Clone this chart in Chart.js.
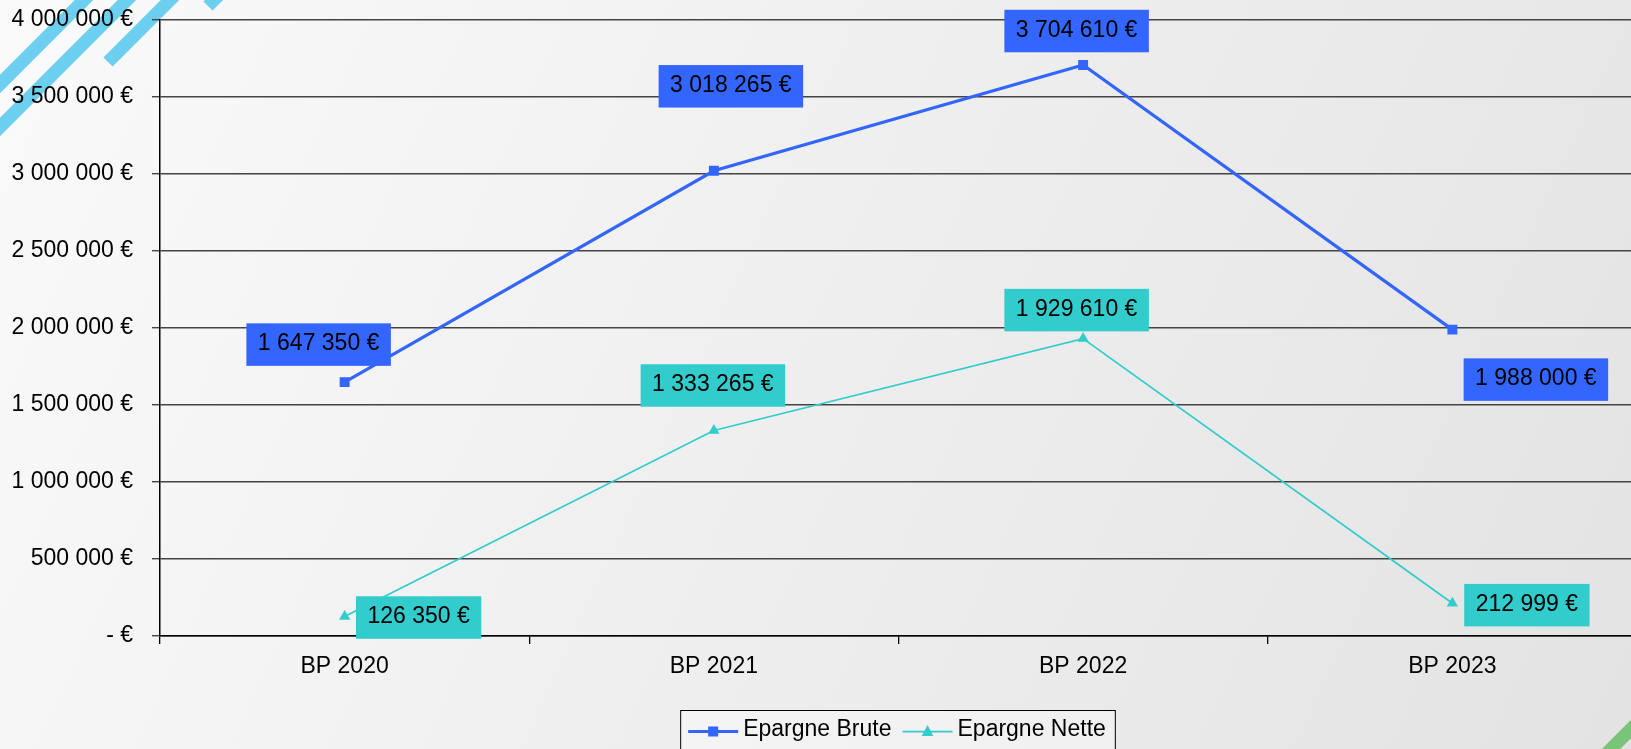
<!DOCTYPE html>
<html>
<head>
<meta charset="utf-8">
<script src="https://cdn.jsdelivr.net/npm/chart.js@4.4.0/dist/chart.umd.min.js"></script>
<style>
  html, body { margin: 0; padding: 0; overflow: hidden; width: 1631px; height: 749px; }
  canvas { display: block; }
</style>
</head>
<body>
<canvas id="graph01" width="1644" height="749"></canvas>
<script>
const categories = ['BP 2020', 'BP 2021', 'BP 2022', 'BP 2023']
const epargneBrute = [1647350, 3018265, 3704610, 1988000]
const epargneNette = [126350, 1333265, 1929610, 212999]
const seriesNames = ['Epargne Brute', 'Epargne Nette']
const yMin = 0
const yMax = 4000000
const yStep = 500000

// where each value box sits, relative to its point
const offsetsBrute = [[-26, -37.5], [17, -84.5], [-6.5, -34], [83.5, 50]]
const offsetsNette = [[74, 1], [-1, -45], [-6.5, -28.5], [74.5, 2]]

const FONT = '"Liberation Sans", Arial, sans-serif'
const FSIZE = 23
const blue = '#3366ff'
const teal = '#33cccc'

const euros = v => {
  if (v === 0) return '- €'
  return String(v).replace(/\B(?=(\d{3})+(?!\d))/g, ' ') + ' €'
}

const background = {
  id: 'background',
  beforeDraw(chart) {
    const c = chart.ctx
    const w = 1631, h = 749
    c.save()
    const g = c.createLinearGradient(0, 0, w, h)
    g.addColorStop(0, '#fafafa')
    g.addColorStop(1, '#e3e3e3')
    c.fillStyle = g
    c.fillRect(0, 0, chart.width, h)
    c.lineCap = 'butt'
    c.lineWidth = 13
    c.strokeStyle = '#6ccff0'
    const stripes = [[-20, 104, 104, -20], [-20, 147, 147, -20], [108, 62, 180, -10], [208, 6, 224, -10]]
    stripes.forEach(s => {
      c.beginPath()
      c.moveTo(s[0], s[1])
      c.lineTo(s[2], s[3])
      c.stroke()
    })
    c.strokeStyle = '#7ac47a'
    c.beginPath()
    c.moveTo(1600, 760)
    c.lineTo(1650, 710)
    c.stroke()
    c.restore()
  }
}

const valueBoxes = {
  id: 'valueBoxes',
  afterDatasetsDraw(chart) {
    const c = chart.ctx
    const offsets = [offsetsBrute, offsetsNette]
    c.save()
    c.font = FSIZE + 'px ' + FONT
    c.textAlign = 'center'
    c.textBaseline = 'alphabetic'
    chart.data.datasets.forEach((ds, di) => {
      const meta = chart.getDatasetMeta(di)
      meta.data.forEach((pt, i) => {
        const txt = euros(ds.data[i])
        const bw = c.measureText(txt).width + 23
        const bh = 42.5
        const cx = pt.x + offsets[di][i][0]
        const cy = pt.y + offsets[di][i][1]
        c.fillStyle = ds.borderColor
        c.fillRect(cx - bw / 2, cy - bh / 2, bw, bh)
        c.fillStyle = '#000'
        c.fillText(txt, cx, cy + 5.5)
      })
    })
    c.restore()
  }
}

const boxLegend = {
  id: 'boxLegend',
  afterDraw(chart) {
    const c = chart.ctx
    c.save()
    c.font = FSIZE + 'px ' + FONT
    const sets = chart.data.datasets
    const widths = sets.map(ds => c.measureText(ds.label).width)
    const sample = 50
    const total = 8 + sample + 5 + widths[0] + 11 + sample + 5 + widths[1] + 9
    const left = 897.5 - total / 2
    const top = 710
    c.fillStyle = 'rgba(255,255,255,0.35)'
    c.fillRect(left, top, total, 60)
    c.strokeStyle = '#000'
    c.lineWidth = 1
    c.strokeRect(left + 0.5, top + 0.5, total, 60)
    let x = left + 8
    const y = 731.5
    sets.forEach((ds, i) => {
      c.strokeStyle = ds.borderColor
      c.lineWidth = ds.borderWidth
      c.beginPath()
      c.moveTo(x, y)
      c.lineTo(x + sample, y)
      c.stroke()
      c.fillStyle = ds.borderColor
      const mx = x + sample / 2
      if (ds.pointStyle === 'rect') {
        c.fillRect(mx - 5, y - 5, 10, 10)
      } else {
        c.beginPath()
        c.moveTo(mx, y - 6.5)
        c.lineTo(mx + 5.8, y + 4.5)
        c.lineTo(mx - 5.8, y + 4.5)
        c.closePath()
        c.fill()
      }
      c.fillStyle = '#000'
      c.textBaseline = 'alphabetic'
      c.textAlign = 'left'
      c.fillText(ds.label, x + sample + 5, 736)
      x += sample + 5 + widths[i] + 11
    })
    c.restore()
  }
}

const graph = document.getElementById('graph01')

new Chart(graph, {
  type: 'line',
  data: {
    labels: categories,
    datasets: [
      {
        label: seriesNames[0],
        data: epargneBrute,
        borderColor: blue,
        backgroundColor: blue,
        borderWidth: 3.2,
        pointStyle: 'rect',
        pointRadius: 7,
        pointBorderWidth: 0,
        pointBackgroundColor: blue,
        tension: 0
      },
      {
        label: seriesNames[1],
        data: epargneNette,
        borderColor: teal,
        backgroundColor: teal,
        borderWidth: 1.75,
        pointStyle: 'triangle',
        pointRadius: 6.5,
        pointBorderWidth: 0,
        pointBackgroundColor: teal,
        tension: 0
      }
    ]
  },
  options: {
    responsive: false,
    animation: false,
    layout: {
      padding: { top: 19.5, right: 0, bottom: 0, left: 0 }
    },
    plugins: {
      legend: { display: false },
      tooltip: { enabled: false }
    },
    scales: {
      x: {
        offset: true,
        afterFit: scale => {
          scale.height = 113
          scale.paddingLeft = 0
          scale.paddingRight = 0
        },
        grid: {
          display: true,
          drawOnChartArea: false,
          offset: true,
          tickLength: 8,
          color: '#000',
          lineWidth: 1.3
        },
        border: { color: '#000', width: 1.5 },
        ticks: {
          color: '#000',
          font: { family: FONT, size: FSIZE },
          padding: 9,
          maxRotation: 0,
          autoSkip: false
        }
      },
      y: {
        min: yMin,
        max: yMax,
        afterFit: scale => {
          scale.width = 160
          scale.paddingTop = 0
          scale.paddingBottom = 0
        },
        grid: {
          color: '#444',
          lineWidth: 1.4,
          tickLength: 8
        },
        border: { color: '#000', width: 1.5 },
        ticks: {
          stepSize: yStep,
          color: '#000',
          font: { family: FONT, size: FSIZE },
          padding: 19,
          callback: v => euros(v)
        }
      }
    }
  },
  plugins: [background, valueBoxes, boxLegend]
})
</script>
</body>
</html>
